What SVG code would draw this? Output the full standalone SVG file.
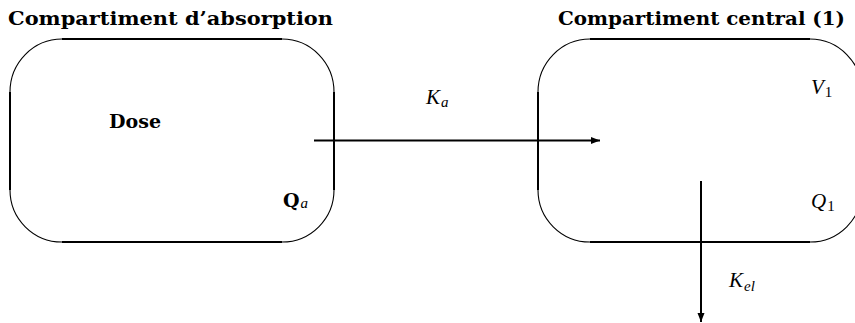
<svg xmlns="http://www.w3.org/2000/svg" width="855" height="323" viewBox="0 0 855 323">
<style>
.ln{fill:none;stroke:#000;stroke-width:2}
.arc{fill:none;stroke:#000;stroke-width:1.1}
.title{font-family:"DejaVu Serif",serif;font-weight:bold;font-size:18px;fill:#000}
.bold{font-family:"DejaVu Serif",serif;font-weight:bold;font-size:19px;fill:#000}
.math{font-family:"Liberation Serif",serif;font-style:italic;font-size:21px;fill:#000}
.sub{font-family:"Liberation Serif",serif;font-style:italic;font-size:15px;fill:#000}
.subn{font-family:"Liberation Serif",serif;font-size:15px;fill:#000}
</style>
<defs>
<marker id="ah" markerUnits="userSpaceOnUse" markerWidth="10" markerHeight="8" refX="9" refY="4" orient="auto">
<path d="M0,0.5 L9,4 L0,7.5 Z" fill="#000"/>
</marker>
</defs>
<g id="absorption">
<text class="title" x="8" y="25" textLength="325" lengthAdjust="spacingAndGlyphs">Compartiment d’absorption</text>
<path class="ln" d="M62,39 H282 M334,92 V190 M282,242 H62 M10,190 V92"/>
<path class="arc" d="M10,92 A52,53 0 0 1 62,39 M282,39 A52,53 0 0 1 334,92 M334,190 A52,52 0 0 1 282,242 M62,242 A52,52 0 0 1 10,190"/>
<text class="bold" x="109" y="128" textLength="52" lengthAdjust="spacingAndGlyphs">Dose</text>
<text x="283" y="207"><tspan class="bold" font-size="19">Q</tspan><tspan class="sub" dx="1" dy="1">a</tspan></text>
</g>
<g id="central">
<text class="title" x="558" y="25" textLength="287" lengthAdjust="spacingAndGlyphs">Compartiment central (1)</text>
<path class="ln" d="M590,39 H810 M538,92 V190 M810,242 H590"/>
<path class="arc" d="M538,92 A52,53 0 0 1 590,39 M810,39 A52,53 0 0 1 862,92 M862,190 A52,52 0 0 1 810,242 M590,242 A52,52 0 0 1 538,190"/>
<text x="811" y="94"><tspan class="math">V</tspan><tspan class="subn" dx="1" dy="3">1</tspan></text>
<text x="811" y="208"><tspan class="math">Q</tspan><tspan class="subn" dx="1" dy="3">1</tspan></text>
</g>
<g id="connectors">
<line class="ln" x1="314" y1="140.5" x2="600" y2="140.5" marker-end="url(#ah)"/>
<line class="ln" x1="701" y1="181" x2="701" y2="322" marker-end="url(#ah)"/>
<text x="426" y="104"><tspan class="math">K</tspan><tspan class="sub" dx="1" dy="3">a</tspan></text>
<text x="729" y="287"><tspan class="math">K</tspan><tspan class="sub" dx="1" dy="4">el</tspan></text>
</g>
</svg>
